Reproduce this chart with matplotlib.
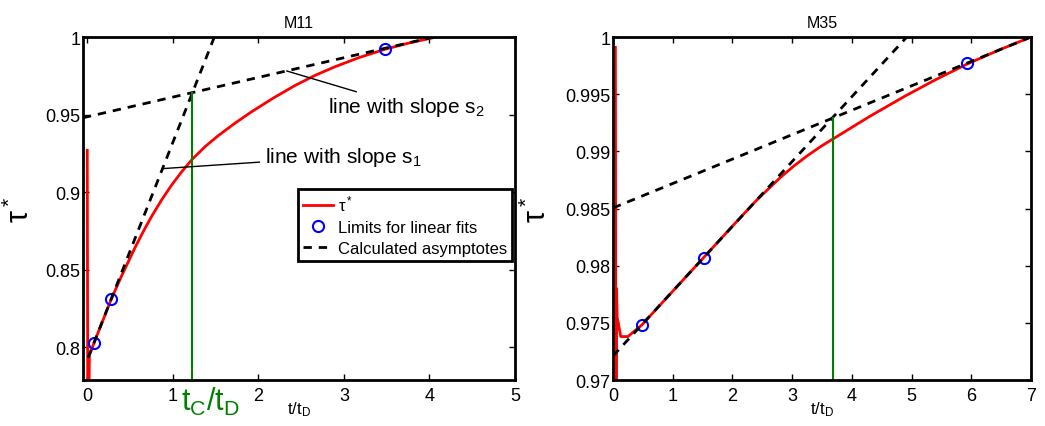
import numpy as np
import matplotlib
matplotlib.use('Agg')
import matplotlib.pyplot as plt
import matplotlib.transforms as mtransforms

plt.rcParams['font.family'] = ['Liberation Sans', 'DejaVu Sans']
plt.rcParams['mathtext.default'] = 'regular'

# ---- M11 (left panel) ----
t_m11 = [0.0, 0.008, 0.025, 0.08, 0.28, 0.40, 0.56, 0.66, 0.75, 0.87, 0.99, 1.10,
         1.23, 1.38, 1.53, 1.72, 1.92, 2.17, 2.43, 2.66, 2.89, 3.18, 3.48, 3.78, 4.08]
tau_m11 = [0.927, 0.700, 0.795, 0.803, 0.831, 0.8459, 0.8645, 0.8752, 0.8842, 0.8951, 0.9049, 0.9129,
           0.9214, 0.9295, 0.9364, 0.9442, 0.9518, 0.9605, 0.9688, 0.9752, 0.9807, 0.9868, 0.9921, 0.9964, 1.000]
lim_t_m11 = [0.08, 0.28, 3.48]
lim_tau_m11 = [0.803, 0.831, 0.992]
# asymptotes: intercept, slope, x-range
fit1_m11 = (0.792, 0.140, [0.01, 1.486])
fit2_m11 = (0.9486, 0.01268, [-0.05, 4.06])
tc_m11 = 1.23

# ---- M35 (right panel) ----
t_m35 = [0.04, 0.05, 0.06, 0.07, 0.13, 0.25, 0.48, 1.00, 1.53, 2.00, 2.40, 2.80,
         3.02, 3.25, 3.48, 3.72, 4.30, 4.90, 5.40, 5.92, 6.45, 7.00]
tau_m35 = [0.9991, 0.955, 0.978, 0.9755, 0.9738, 0.9738, 0.9748, 0.97776, 0.98078, 0.98346, 0.9857, 0.9877,
           0.98868, 0.9896, 0.99043, 0.9912, 0.99306, 0.99486, 0.99626, 0.99761, 0.99883, 1.0000]
lim_t_m35 = [0.48, 1.53, 5.92]
lim_tau_m35 = [0.9748, 0.9807, 0.9977]
fit1_m35 = (0.9721, 0.00567, [0.0, 4.92])
fit2_m35 = (0.98505, 0.002136, [0.0, 7.0])
tc_m35 = 3.69

yticks_m11 = [0.8, 0.85, 0.9, 0.95, 1.0]
ylabels_m11 = ['0.8', '0.85', '0.9', '0.95', '1']
yticks_m35 = [0.97, 0.975, 0.98, 0.985, 0.99, 0.995, 1.0]
ylabels_m35 = ['0.97', '0.975', '0.98', '0.985', '0.99', '0.995', '1']

fig = plt.figure(figsize=(10.45, 4.27), dpi=100)
ax1 = fig.add_axes([0.0794, 0.1077, 0.4134, 0.8033])
ax2 = fig.add_axes([0.5866, 0.1077, 0.4000, 0.8033])


def draw_panel(ax, t, tau, lt, ltau, f1, f2, tc, xlim, ylim, yt, yl, title):
    ax.plot(t, tau, color='red', lw=2, label=r'τ$^*$')
    ax.plot(lt, ltau, 'o', mfc='none', mec='blue', ms=8, mew=1.5,
            label='Limits for linear fits')
    x1 = np.array(f1[2])
    ax.plot(x1, f1[0] + f1[1] * x1, '--', color='black', lw=2,
            dashes=(3, 2.5), label='Calculated asymptotes')
    x2 = np.array(f2[2])
    ax.plot(x2, f2[0] + f2[1] * x2, '--', color='black', lw=2, dashes=(3, 2.5))
    ax.plot([tc, tc], [ylim[0], f2[0] + f2[1] * tc], color='green', lw=1.5)
    ax.set_xlim(xlim)
    ax.set_ylim(ylim)
    ax.set_yticks(yt)
    ax.set_yticklabels(yl)
    ax.set_title(title, fontsize=11.5, pad=7)
    ax.set_xlabel('t/t$_D$', fontsize=12)
    ax.xaxis.set_label_coords(0.5, -0.055)
    ax.set_ylabel(r'τ$^*$', fontsize=22)
    ax.tick_params(direction='in', top=True, right=True, labelsize=13,
                   length=4, width=1)
    ax.tick_params(axis='y', pad=2)
    ax.tick_params(axis='x', pad=5)
    for s in ax.spines.values():
        s.set_linewidth(2)


draw_panel(ax1, t_m11, tau_m11, lim_t_m11, lim_tau_m11, fit1_m11, fit2_m11,
           tc_m11, (-0.05, 5), (0.779, 1.0), yticks_m11, ylabels_m11, 'M11')
draw_panel(ax2, t_m35, tau_m35, lim_t_m35, lim_tau_m35, fit1_m35, fit2_m35,
           tc_m35, (0, 7), (0.97, 1.0), yticks_m35, ylabels_m35, 'M35')
ax1.set_xticks([0, 1, 2, 3, 4, 5])
ax2.set_xticks([0, 1, 2, 3, 4, 5, 6, 7])
ax1.yaxis.set_label_coords(-0.108, 0.5)
ax2.yaxis.set_label_coords(-0.143, 0.5)

# annotations on the left panel
x_s2 = 2.33
ax1.annotate('line with slope s$_2$', xy=(x_s2, fit2_m11[0] + fit2_m11[1] * x_s2),
             xytext=(2.82, 0.955), fontsize=15, va='center', ha='left',
             arrowprops=dict(arrowstyle='-', color='black', lw=1, shrinkA=2, shrinkB=0))
x_s1 = 0.88
ax1.annotate('line with slope s$_1$', xy=(x_s1, fit1_m11[0] + fit1_m11[1] * x_s1),
             xytext=(2.08, 0.923), fontsize=15, va='center', ha='left',
             arrowprops=dict(arrowstyle='-', color='black', lw=1, shrinkA=2, shrinkB=0))

trans = mtransforms.blended_transform_factory(ax1.transData, ax1.transAxes)
ax1.text(1.1, -0.06, 't$_C$/t$_D$', transform=trans, color='green', fontsize=22,
         ha='left', va='center')

leg = ax1.legend(loc='upper right', bbox_to_anchor=(0.993, 0.557), borderaxespad=0,
                 fontsize=12, fancybox=False, framealpha=1, edgecolor='black',
                 handlelength=1.8, handletextpad=0.3, labelspacing=0.35,
                 borderpad=0.3)
leg.get_frame().set_linewidth(2)

fig.savefig('out.png', dpi=100)
